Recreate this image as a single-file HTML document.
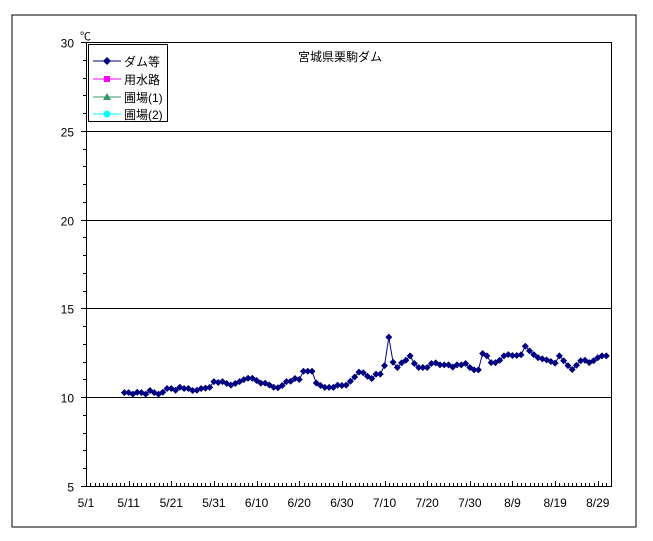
<!DOCTYPE html>
<html><head><meta charset="utf-8"><style>
body{margin:0;background:#fff;}
svg{display:block;font-family:"Liberation Sans","Noto Sans CJK JP",sans-serif;}
</style></head><body>
<svg id="chart" width="653" height="541">
<rect x="12" y="15" width="624" height="512" fill="#fff" stroke="#000" stroke-width="1"/>
<g id="grid"></g><g id="axes"></g><g id="series"></g>
<text x="340" y="61" font-size="12" text-anchor="middle">宮城県栗駒ダム</text>
<text x="80" y="40" font-size="11">℃</text>
<g>
<rect x="88.5" y="44.5" width="79" height="77" fill="#fff" stroke="#000"/>
<g><line x1="93" y1="61" x2="121" y2="61" stroke="#000080"/><path d="M107 57 L111 61 L107 65 L103 61Z" fill="#000080"/><text x="124" y="66" font-size="12">ダム等</text></g>
<g><line x1="93" y1="79" x2="121" y2="79" stroke="#ff00ff"/><rect x="104" y="76" width="6" height="6" fill="#ff00ff"/><text x="124" y="84" font-size="12">用水路</text></g>
<g><line x1="93" y1="97" x2="121" y2="97" stroke="#339966"/><path d="M107 93 L111 100 L103 100Z" fill="#339966"/><text x="124" y="102" font-size="12">圃場(1)</text></g>
<g><line x1="93" y1="114" x2="121" y2="114" stroke="#00ffff"/><circle cx="107" cy="114" r="3.5" fill="#00ffff"/><text x="124" y="119" font-size="12">圃場(2)</text></g>
</g>
</svg>
<script>
const yTicks=[5,10,15,20,25,30];
const xLabels=["5/1","5/11","5/21","5/31","6/10","6/20","6/30","7/10","7/20","7/30","8/9","8/19","8/29"];
const startDay=9;
const damTemps=[10.26,10.26,10.17,10.28,10.26,10.17,10.38,10.26,10.17,10.28,10.49,10.49,10.39,10.56,10.49,10.49,10.38,10.39,10.49,10.51,10.55,10.88,10.83,10.88,10.77,10.68,10.77,10.88,10.99,11.07,11.07,10.94,10.79,10.79,10.69,10.56,10.53,10.66,10.88,10.9,11.05,11.0,11.46,11.46,11.46,10.8,10.66,10.55,10.55,10.55,10.68,10.66,10.68,10.9,11.14,11.41,11.38,11.18,
11.05,11.3,11.3,11.78,13.38,11.97,11.67,11.93,12.08,12.33,11.9,11.67,11.67,11.67,11.9,11.93,11.82,11.82,11.82,11.69,11.82,11.82,11.9,11.67,11.54,11.54,12.46,12.33,11.95,11.95,12.08,12.33,12.40,12.35,12.35,12.39,12.87,12.61,12.40,12.23,12.16,12.10,12.01,11.92,12.33,12.05,11.78,11.56,11.80,12.05,12.08,11.95,12.05,12.22,12.33,12.33];
const X0=86,X1=611,Y0=486,Y1=42,DAYS=123.1;
const xs=d=>X0+(X1-X0)*d/DAYS;
const ys=v=>Y0-(Y0-Y1)*(v-5)/25;
const NS="http://www.w3.org/2000/svg";
function mk(t,a,p){const e=document.createElementNS(NS,t);for(const k in a)e.setAttribute(k,a[k]);p.appendChild(e);return e;}
const grid=document.getElementById('grid'),axes=document.getElementById('axes'),ser=document.getElementById('series');
mk('rect',{x:X0+0.5,y:Y1+0.5,width:X1-X0,height:Y0-Y1,fill:'#fff',stroke:'#000'},grid);
yTicks.forEach(v=>{const y=Math.round(ys(v))+0.5;
 if(v>5&&v<30){const l=mk('line',{x1:X0,x2:X1,y1:y,y2:y,stroke:'#000'},grid);
 
 }
 mk('line',{x1:X0-5,x2:X0,y1:y,y2:y,stroke:'#000'},axes);
 const t=mk('text',{x:X0-12,y:y+5,'font-size':12,'text-anchor':'end'},axes);t.textContent=v;
 
 });
for(let v=5;v<=30;v++){if(v%5){const y=Math.round(ys(v))+0.5;mk('line',{x1:X0-3,x2:X0,y1:y,y2:y,stroke:'#000'},axes);}}
for(let d=0;d<=123;d++){const x=Math.round(xs(d))+0.5;mk('line',{x1:x,x2:x,y1:Y0,y2:d%10===0?Y0-5:Y0-3,stroke:'#000'},axes);}
xLabels.forEach((s,i)=>{const x=xs(i*10);const t=mk('text',{x:x,y:Y0+21,'font-size':12,'text-anchor':'middle'},axes);t.textContent=s;
 
 });
const pts=damTemps.map((v,i)=>[xs(startDay+i),ys(v)]);
const pl=mk('polyline',{points:pts.map(p=>p.join(',')).join(' '),fill:'none',stroke:'#000080','stroke-width':1},ser);


pts.forEach(([x,y])=>{const m=mk('path',{d:`M${x} ${y-3.5}L${x+3.5} ${y}L${x} ${y+3.5}L${x-3.5} ${y}Z`,fill:'#000080'},ser);
 
 });
</script>
</body></html>
